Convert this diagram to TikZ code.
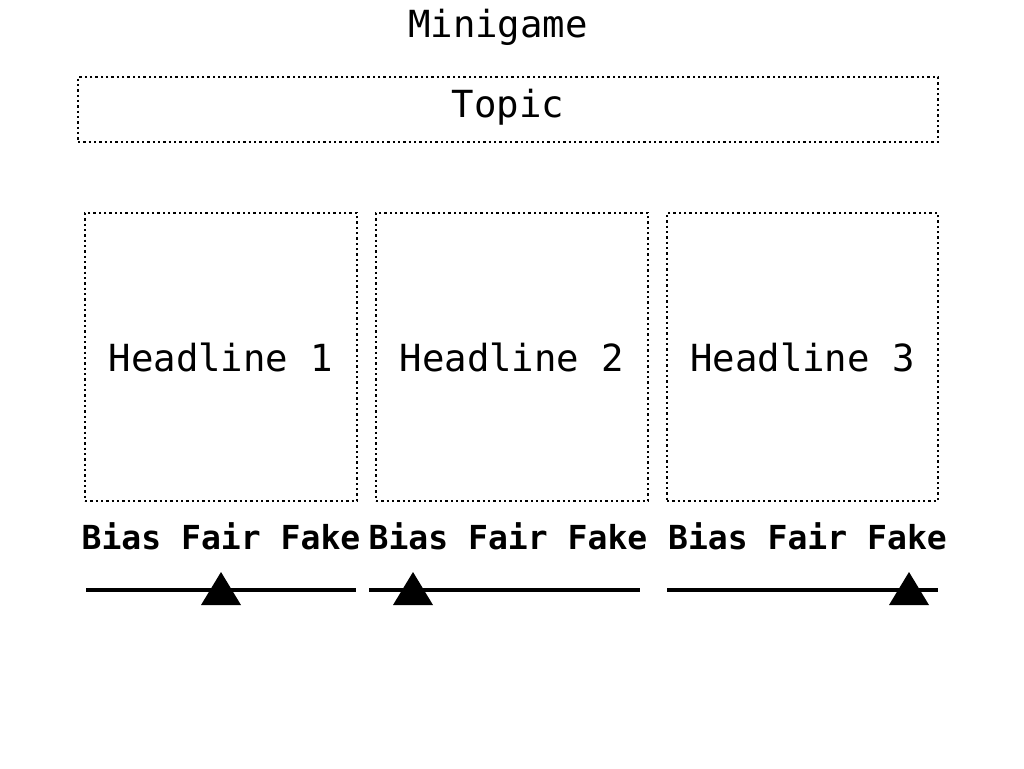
\documentclass[tikz,border=0pt]{standalone}
\usepackage{fontspec}
\setmonofont{DejaVu Sans Mono}
\begin{document}
\begin{tikzpicture}[x=0.75pt,y=-0.75pt,
  dotbox/.style={draw, line width=1.8pt, dash pattern=on 1.8pt off 2.2pt, inner sep=0pt, font=\ttfamily\fontsize{28}{34}\selectfont},
  ttl/.style={font=\ttfamily\fontsize{28}{34}\selectfont, inner sep=0pt},
  scalelbl/.style={font=\ttfamily\bfseries\fontsize{24.8}{30}\selectfont, inner sep=0pt},
  track/.style={line width=2.6pt}]
\useasboundingbox (0,0) rectangle (1024,768);
\node[ttl] (title) at (498,27) {Minigame};
\node[dotbox, minimum width=860*0.75pt, minimum height=65*0.75pt] (topic) at (508,109.5) {};
\node[ttl] (topictxt) at (508,107.5) {Topic};
\node[dotbox, minimum width=272*0.75pt, minimum height=288*0.75pt] (h1) at (221,357) {Headline 1};
\node[dotbox, minimum width=272*0.75pt, minimum height=288*0.75pt] (h2) at (512,357) {Headline 2};
\node[dotbox, minimum width=271*0.75pt, minimum height=288*0.75pt] (h3) at (802.5,357) {Headline 3};
\node[scalelbl] (s1) at (221,536.5) {Bias Fair Fake};
\node[scalelbl] (s2) at (508,536.5) {Bias Fair Fake};
\node[scalelbl] (s3) at (807.5,536.5) {Bias Fair Fake};
\coordinate (a1) at (86,590); \coordinate (b1) at (356,590);
\coordinate (a2) at (369,590); \coordinate (b2) at (640,590);
\coordinate (a3) at (667,590); \coordinate (b3) at (938,590);
\draw[track] (a1) -- (b1);
\draw[track] (a2) -- (b2);
\draw[track] (a3) -- (b3);
\fill (201,605) -- (241,605) -- (221,572) -- cycle;
\fill (393,605) -- (433,605) -- (413,572) -- cycle;
\fill (889,605) -- (929,605) -- (909,572) -- cycle;
\end{tikzpicture}
\end{document}
